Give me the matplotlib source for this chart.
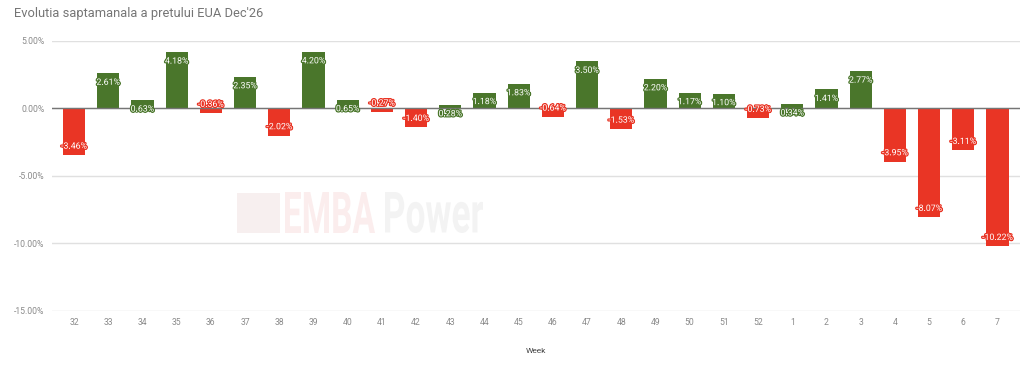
import matplotlib.pyplot as plt
import matplotlib.patheffects as pe
from matplotlib.textpath import TextPath
from matplotlib.patches import PathPatch
from matplotlib.font_manager import FontProperties
from matplotlib.transforms import Affine2D, IdentityTransform
import numpy as np

weeks = ['32', '33', '34', '35', '36', '37', '38', '39', '40', '41', '42', '43', '44', '45',
         '46', '47', '48', '49', '50', '51', '52', '1', '2', '3', '4', '5', '6', '7']
change = [-3.46, 2.61, 0.63, 4.18, -0.36, 2.35, -2.02, 4.20, 0.65, -0.27, -1.40, 0.28, 1.18, 1.83,
          -0.64, 3.50, -1.53, 2.20, 1.17, 1.10, -0.73, 0.34, 1.41, 2.77, -3.95, -8.07, -3.11, -10.22]
yticks = [5, 0, -5, -10, -15]

green = '#4a762b'
red = '#e93525'

plt.rcParams['font.family'] = ['Roboto', 'DejaVu Sans']

fig = plt.figure(figsize=(10.3, 3.75), dpi=100)
ax = fig.add_axes([0.05, 0.1707, 0.94, 0.72])


def watermark(word, left, bottom, width, height, color):
    # squeezed bold text in pixel coords (watermark logo)
    tp = TextPath((0, 0), word, size=10, prop=FontProperties(family='Roboto', weight='bold'))
    ext = tp.get_extents()
    tr = (Affine2D().translate(-ext.x0, -ext.y0)
          .scale(width / ext.width, height / ext.height)
          .translate(left, bottom))
    fig.patches.append(PathPatch(tr.transform_path(tp), color=color, lw=0,
                                 transform=IdentityTransform(), zorder=0))


# faint "EMBA Power" logo behind the bars
watermark('EMBA', 285, 142, 90, 41, '#fbeded')
watermark('Power', 385, 142, 98, 41, '#f3f3f3')
fig.patches.append(plt.Rectangle((237, 142), 43, 40, color='#f7efef', lw=0,
                                 transform=IdentityTransform(), zorder=0))
ax.patch.set_alpha(0)

x = np.arange(len(weeks))
colors = [green if v >= 0 else red for v in change]
ax.bar(x, change, width=0.65, color=colors, zorder=2)

for xi, v, c in zip(x, change, colors):
    off = -6.5 if v >= 0 else 6.5
    ax.annotate(f'{v:.2f}%', (xi, v), xytext=(0, off), textcoords='offset points',
                ha='center', va='center', fontsize=6.3, color='white', zorder=3,
                path_effects=[pe.withStroke(linewidth=1.8, foreground=c)])

ax.set_ylim(-15, 5)
ax.set_xlim(-0.66, len(weeks) - 0.35)
ax.set_yticks(yticks)
ax.set_yticklabels([f'{t:.2f}%' for t in yticks])
ax.set_xticks(x)
ax.set_xticklabels(weeks)
ax.tick_params(length=0, labelsize=6.2, labelcolor='#8a8a8a', pad=5)
ax.grid(axis='y', color='#e0e0e0', linewidth=1, zorder=0)
ax.axhline(0, color='#757575', linewidth=1, zorder=2.5)
for s in ax.spines.values():
    s.set_visible(False)

ax.set_xlabel('Week', fontsize=6, color='#444444', labelpad=15)
fig.text(0.0136, 0.965, "Evolutia saptamanala a pretului EUA Dec'26", fontsize=9.3,
         color='#757575', ha='left', va='center')

fig.savefig('out.png', dpi=100)
